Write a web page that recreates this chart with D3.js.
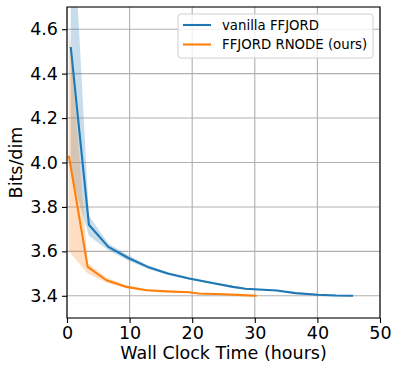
<!DOCTYPE html>
<html>
<head>
<meta charset="utf-8">
<script src="https://cdn.jsdelivr.net/npm/d3@7"></script>
<style>
	body { margin: 0; background: #fff; }
	svg { font-family: "DejaVu Sans", sans-serif; }
	.grid line { stroke: #b0b0b0; stroke-width: 1.1; }
</style>
</head>
<body>
<div id="chart"></div>
<script>
let WIDTH = 393;
let HEIGHT = 365;
let margin = {top: 7, right: 13, bottom: 47, left: 67};

let xTicks = [0, 10, 20, 30, 40, 50];
let yTicks = [3.4, 3.6, 3.8, 4.0, 4.2, 4.4, 4.6];

// vanilla FFJORD: hours, bits/dim, band low, band high
let vanillaHours = [0.6, 3.5, 6.6, 9.8, 12.9, 16.1, 19.5, 22.8, 26.5, 28.5, 33.5, 36.5, 40.0, 43.0, 45.7];
let vanillaBits  = [4.52, 3.72, 3.62, 3.57, 3.53, 3.50, 3.478, 3.46, 3.44, 3.432, 3.424, 3.412, 3.405, 3.401, 3.40];
let vanillaLow   = [3.95, 3.67, 3.605, 3.558, 3.522, 3.494, 3.473, 3.456, 3.436, 3.429, 3.421, 3.409, 3.402, 3.399, 3.398];
let vanillaHigh  = [5.30, 3.76, 3.635, 3.582, 3.538, 3.506, 3.483, 3.464, 3.444, 3.435, 3.427, 3.415, 3.408, 3.404, 3.402];

// FFJORD RNODE (ours)
let rnodeHours = [0.3, 3.3, 6.3, 9.5, 12.7, 15.9, 19.5, 21.0, 25.0, 28.0, 30.3];
let rnodeBits  = [4.03, 3.53, 3.47, 3.44, 3.425, 3.42, 3.416, 3.41, 3.407, 3.403, 3.40];
let rnodeLow   = [3.60, 3.50, 3.46, 3.434, 3.421, 3.417, 3.413, 3.407, 3.404, 3.401, 3.398];
let rnodeHigh  = [4.62, 3.545, 3.482, 3.447, 3.429, 3.423, 3.419, 3.413, 3.410, 3.405, 3.402];

let seriesNames = ['vanilla FFJORD', 'FFJORD RNODE (ours)'];
let colors = ['#1f77b4', '#ff7f0e'];

let toRows = (hours, mean, low, high) => hours.map((h, i) => ({x: h, y: mean[i], lo: low[i], hi: high[i]}));
let series = [
	toRows(vanillaHours, vanillaBits, vanillaLow, vanillaHigh),
	toRows(rnodeHours, rnodeBits, rnodeLow, rnodeHigh)
];

let innerW = WIDTH - margin.left - margin.right;
let innerH = HEIGHT - margin.top - margin.bottom;

let x = d3.scaleLinear().domain([0, 50]).range([0, innerW]);
let y = d3.scaleLinear().domain([3.3, 4.7]).range([innerH, 0]);

let svg = d3.select('#chart').append('svg')
	.attr('width', WIDTH)
	.attr('height', HEIGHT);

svg.append('defs').append('clipPath').attr('id', 'clip')
	.append('rect').attr('width', innerW).attr('height', innerH);

let g = svg.append('g').attr('transform', `translate(${margin.left},${margin.top})`);

// grid
let grid = g.append('g').attr('class', 'grid');
grid.selectAll('.gx').data(xTicks).enter().append('line')
	.attr('x1', d => x(d)).attr('x2', d => x(d))
	.attr('y1', 0).attr('y2', innerH);
grid.selectAll('.gy').data(yTicks).enter().append('line')
	.attr('x1', 0).attr('x2', innerW)
	.attr('y1', d => y(d)).attr('y2', d => y(d));

let plot = g.append('g').attr('clip-path', 'url(#clip)');

let area = d3.area()
	.x(d => x(d.x))
	.y0(d => y(d.lo))
	.y1(d => y(d.hi));

let line = d3.line()
	.x(d => x(d.x))
	.y(d => y(d.y));

series.forEach((rows, i) => {
	plot.append('path')
		.attr('d', area(rows))
		.attr('fill', colors[i])
		.attr('fill-opacity', 0.25);
});
series.forEach((rows, i) => {
	plot.append('path')
		.attr('d', line(rows))
		.attr('fill', 'none')
		.attr('stroke', colors[i])
		.attr('stroke-width', 2.1)
		.attr('stroke-linejoin', 'round');
});

// axes
let xAxis = g.append('g')
	.attr('transform', `translate(0,${innerH})`)
	.call(d3.axisBottom(x).tickValues(xTicks).tickFormat(d3.format('d')).tickSize(5).tickPadding(4));
let yAxis = g.append('g')
	.call(d3.axisLeft(y).tickValues(yTicks).tickFormat(d3.format('.1f')).tickSize(5).tickPadding(4));

[xAxis, yAxis].forEach(ax => {
	ax.select('.domain').remove();
	ax.selectAll('text').attr('font-size', 17.5).attr('fill', '#000').attr('font-family', '"DejaVu Sans", sans-serif');
	ax.selectAll('line').attr('stroke', '#000').attr('stroke-width', 1.1);
});

// frame
g.append('rect')
	.attr('width', innerW).attr('height', innerH)
	.attr('fill', 'none').attr('stroke', '#000').attr('stroke-width', 1.1);

// labels
svg.append('text')
	.attr('x', margin.left + innerW / 2)
	.attr('y', 359)
	.attr('text-anchor', 'middle')
	.attr('font-size', 17.5)
	.text('Wall Clock Time (hours)');

svg.append('text')
	.attr('transform', `translate(22,${margin.top + innerH / 2}) rotate(-90)`)
	.attr('text-anchor', 'middle')
	.attr('font-size', 17.5)
	.text('Bits/dim');

// legend
let legend = svg.append('g').attr('transform', 'translate(178,14)');
legend.append('rect')
	.attr('width', 195).attr('height', 44)
	.attr('rx', 3)
	.attr('fill', '#fff').attr('fill-opacity', 0.8)
	.attr('stroke', '#d0d0d0').attr('stroke-width', 1);

seriesNames.forEach((name, i) => {
	let row = legend.append('g').attr('transform', `translate(0,${11 + i * 19.5})`);
	row.append('line')
		.attr('x1', 5).attr('x2', 33)
		.attr('stroke', colors[i]).attr('stroke-width', 2.1);
	row.append('text')
		.attr('x', 44).attr('dy', '0.35em')
		.attr('font-size', 13.3)
		.text(name);
});
</script>
</body>
</html>
